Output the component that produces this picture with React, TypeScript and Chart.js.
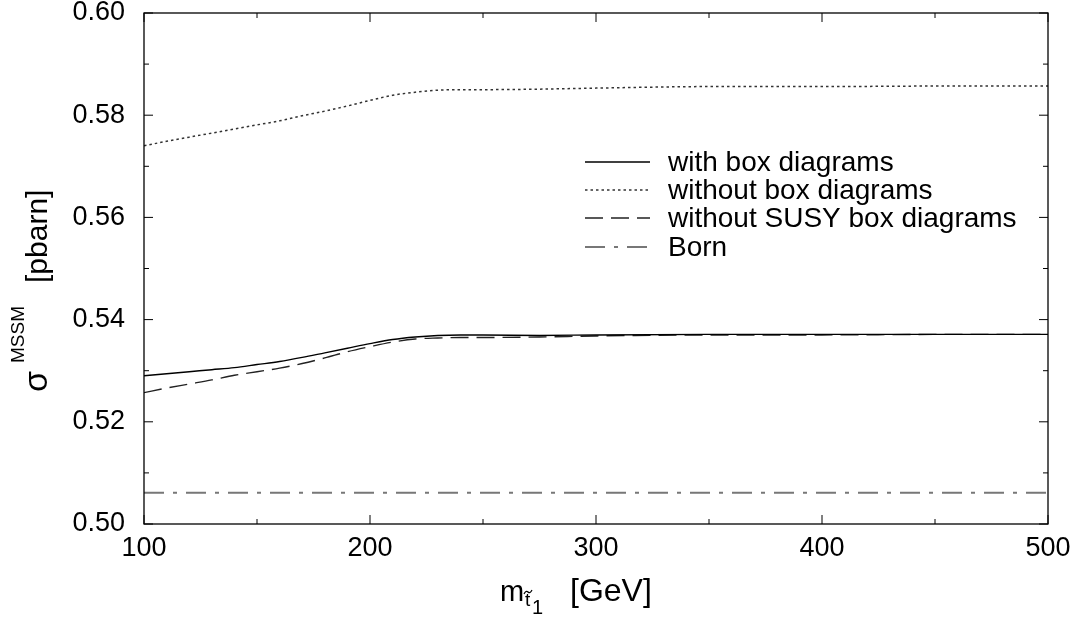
import React, { useEffect, useRef } from "react";
import { Chart, registerables } from "chart.js";

Chart.register(...registerables);

const FONT = "'Liberation Sans', Arial, Helvetica, sans-serif";

// stop mass m_{t~1} [GeV]
const masses = [100, 110, 120, 130, 140, 150, 160, 170, 180, 190, 200, 210, 220, 230, 240, 250, 275, 300, 350, 400, 450, 500];

const withBox = [0.5290, 0.5294, 0.5298, 0.5302, 0.5306, 0.5312, 0.5318, 0.5326, 0.5335, 0.5344, 0.5353, 0.5361, 0.5366, 0.5369, 0.5370, 0.5370, 0.5369, 0.5370, 0.5371, 0.5371, 0.5371, 0.5371];
const withoutBox = [0.5740, 0.5749, 0.5757, 0.5765, 0.5773, 0.5781, 0.5789, 0.5799, 0.5808, 0.5818, 0.5829, 0.5839, 0.5845, 0.5849, 0.5850, 0.5850, 0.5851, 0.5853, 0.5856, 0.5856, 0.5857, 0.5857];
const withoutSusyBox = [0.5257, 0.5266, 0.5274, 0.5282, 0.5291, 0.5298, 0.5305, 0.5314, 0.5325, 0.5337, 0.5347, 0.5356, 0.5362, 0.5364, 0.5365, 0.5365, 0.5366, 0.5368, 0.5370, 0.5370, 0.5371, 0.5371];
const born = [0.5061, 0.5061, 0.5061, 0.5061, 0.5061, 0.5061, 0.5061, 0.5061, 0.5061, 0.5061, 0.5061, 0.5061, 0.5061, 0.5061, 0.5061, 0.5061, 0.5061, 0.5061, 0.5061, 0.5061, 0.5061, 0.5061];

const seriesLabels = ["with box diagrams", "without box diagrams", "without SUSY box diagrams", "Born"];

const xTickValues = [100, 200, 300, 400, 500];
const yTickValues = [0.5, 0.52, 0.54, 0.56, 0.58, 0.6];

const toPoints = (ys: number[]) => masses.map((m, i) => ({ x: m, y: ys[i] }));

const framePlugin = {
  id: "frameTicks",
  afterDatasetsDraw(chart: any) {
    const { ctx, chartArea: a, scales } = chart;
    const xs = scales.x;
    const ys = scales.y;
    ctx.save();
    ctx.strokeStyle = "#000";
    ctx.lineWidth = 1.3;
    ctx.strokeRect(a.left, a.top, a.right - a.left, a.bottom - a.top);
    ctx.lineWidth = 1;
    ctx.beginPath();
    for (let v = 100; v <= 500; v += 50) {
      const px = xs.getPixelForValue(v);
      const len = v % 100 === 0 ? 9 : 5;
      ctx.moveTo(px, a.bottom);
      ctx.lineTo(px, a.bottom - len);
      ctx.moveTo(px, a.top);
      ctx.lineTo(px, a.top + len);
    }
    for (let k = 0; k <= 10; k++) {
      const v = 0.5 + k * 0.01;
      const py = ys.getPixelForValue(v);
      const len = k % 2 === 0 ? 9 : 5;
      ctx.moveTo(a.left, py);
      ctx.lineTo(a.left + len, py);
      ctx.moveTo(a.right, py);
      ctx.lineTo(a.right - len, py);
    }
    ctx.stroke();

    // legend
    const ds = chart.data.datasets;
    const rowY = [162, 190, 218, 247];
    ds.forEach((d: any, i: number) => {
      const y = rowY[i];
      ctx.save();
      ctx.strokeStyle = d.borderColor;
      ctx.lineWidth = d.borderWidth;
      ctx.setLineDash(d.borderDash || []);
      ctx.beginPath();
      ctx.moveTo(585, y);
      ctx.lineTo(650, y);
      ctx.stroke();
      ctx.restore();
      ctx.fillStyle = "#000";
      ctx.font = `28px ${FONT}`;
      ctx.textAlign = "left";
      ctx.textBaseline = "middle";
      ctx.fillText(d.label, 668, y + 1);
    });

    // x axis title: m_{t~1} [GeV]
    ctx.fillStyle = "#000";
    ctx.textBaseline = "alphabetic";
    ctx.textAlign = "left";
    ctx.font = `29px ${FONT}`;
    ctx.fillText("m", 500, 601);
    ctx.font = `19px ${FONT}`;
    ctx.fillText("t", 525, 606);
    ctx.strokeStyle = "#000";
    ctx.lineWidth = 1.2;
    ctx.beginPath();
    ctx.moveTo(524, 594);
    ctx.quadraticCurveTo(526, 590, 528, 592);
    ctx.quadraticCurveTo(530, 594, 532, 590);
    ctx.stroke();
    ctx.font = `20px ${FONT}`;
    ctx.fillText("1", 532, 614);
    ctx.font = `32px ${FONT}`;
    ctx.fillText("[GeV]", 570, 601);

    // y axis title: sigma^MSSM [pbarn]
    ctx.save();
    ctx.translate(47, 392);
    ctx.rotate(-Math.PI / 2);
    ctx.font = `34px ${FONT}`;
    ctx.fillText("σ", 0, 0);
    ctx.font = `19px ${FONT}`;
    ctx.fillText("MSSM", 29, -23);
    ctx.font = `30px ${FONT}`;
    ctx.fillText("[pbarn]", 109, 0);
    ctx.restore();

    ctx.restore();
  },
};

export default function App() {
  const ref = useRef<HTMLCanvasElement | null>(null);
  useEffect(() => {
    if (!ref.current) return;
    Chart.defaults.font.family = FONT;
    const chart = new Chart(ref.current, {
      type: "line",
      data: {
        datasets: [
          {
            label: seriesLabels[0],
            data: toPoints(withBox),
            borderColor: "#000",
            borderWidth: 1.4,
            borderDash: [],
            pointRadius: 0,
            cubicInterpolationMode: "monotone",
            fill: false,
          },
          {
            label: seriesLabels[1],
            data: toPoints(withoutBox),
            borderColor: "#333",
            borderWidth: 1.5,
            borderDash: [2.5, 3],
            pointRadius: 0,
            cubicInterpolationMode: "monotone",
            fill: false,
          },
          {
            label: seriesLabels[2],
            data: toPoints(withoutSusyBox),
            borderColor: "#222",
            borderWidth: 1.4,
            borderDash: [18, 8],
            pointRadius: 0,
            cubicInterpolationMode: "monotone",
            fill: false,
          },
          {
            label: seriesLabels[3],
            data: toPoints(born),
            borderColor: "#777",
            borderWidth: 2,
            borderDash: [20, 9, 4, 9],
            pointRadius: 0,
            fill: false,
          },
        ],
      },
      options: {
        animation: false,
        responsive: false,
        maintainAspectRatio: false,
        layout: { padding: { left: 0, right: 29, top: 13, bottom: 0 } },
        plugins: {
          legend: { display: false },
          tooltip: { enabled: false },
          title: { display: false },
        },
        scales: {
          x: {
            type: "linear",
            min: 100,
            max: 500,
            afterBuildTicks: (scale: any) => {
              scale.ticks = xTickValues.map((v) => ({ value: v }));
            },
            ticks: {
              font: { size: 27, family: FONT },
              color: "#000",
              padding: 8,
              maxRotation: 0,
              autoSkip: false,
              callback: (v: any) => String(v),
            },
            grid: { display: false, drawTicks: false },
            border: { display: false },
            afterFit: (scale: any) => {
              scale.height = 94;
              scale.paddingLeft = 0;
              scale.paddingRight = 0;
            },
          },
          y: {
            type: "linear",
            min: 0.5,
            max: 0.6,
            afterBuildTicks: (scale: any) => {
              scale.ticks = yTickValues.map((v) => ({ value: v }));
            },
            ticks: {
              font: { size: 27, family: FONT },
              color: "#000",
              padding: 19,
              autoSkip: false,
              callback: (v: any) => Number(v).toFixed(2),
            },
            grid: { display: false, drawTicks: false },
            border: { display: false },
            afterFit: (scale: any) => {
              scale.width = 144;
              scale.paddingTop = 0;
              scale.paddingBottom = 0;
            },
          },
        },
      },
      plugins: [framePlugin],
    });
    return () => chart.destroy();
  }, []);
  return (
    <div style={{ position: "fixed", left: 0, top: 0, width: 1077, height: 618, background: "#fff" }}>
      <canvas ref={ref} width={1077} height={618} />
    </div>
  );
}
